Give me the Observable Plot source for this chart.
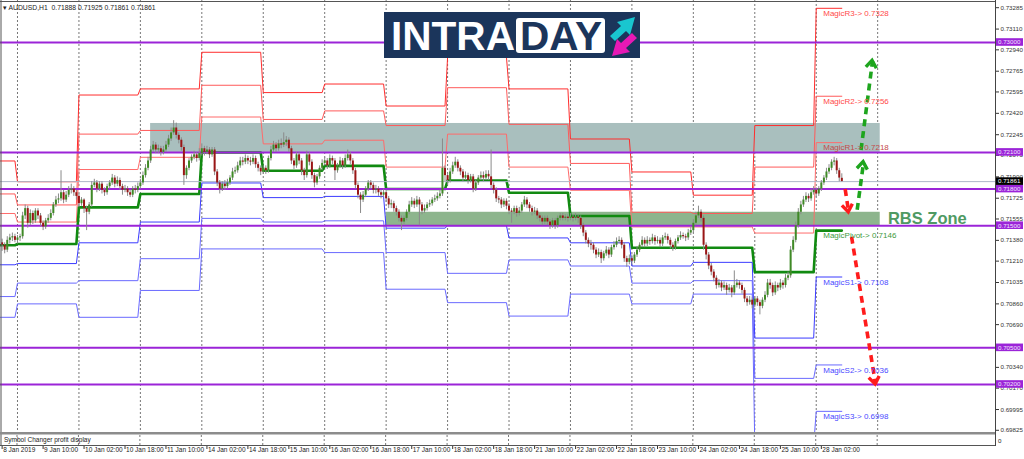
<!DOCTYPE html>
<html><head><meta charset="utf-8">
<script src="https://cdn.jsdelivr.net/npm/d3@7"></script>
<script src="https://cdn.jsdelivr.net/npm/@observablehq/plot@0.6"></script>
<style>
html,body{margin:0;padding:0;background:#fff;}
#chart{width:1024px;height:459px;overflow:hidden;}
</style></head><body><div id="chart"></div>
<script>
// ---------- DATA ----------
const symbolHeader = "AUDUSD,H1  0.71888 0.71925 0.71861 0.71861";
const firstBar = -6; // bar index of first candle (0 = 9 Jan 00:00)
const firstOpen = 0.7136;
const closes = [
 0.7134,0.7130,0.7138,0.7140,0.7141,0.7138,
 0.7140,0.7141,0.7158,0.7164,0.7152,0.7160,0.7154,0.7162,0.7158,0.7152,0.7149,0.7154,0.7156,0.7160,0.7167,0.7171,0.7172,0.7177,0.7171,0.7175,0.7179,0.7180,0.7177,0.7174,
 0.7168,0.7171,0.7164,0.7161,0.7167,0.7183,0.7185,0.7180,0.7184,0.7179,0.7177,0.7182,0.7185,0.7189,0.7184,0.7187,0.7182,0.7179,0.7180,0.7177,0.7175,0.7180,0.7179,0.7182,
 0.7185,0.7191,0.7197,0.7203,0.7212,0.7216,0.7212,0.7213,0.7210,0.7212,0.7216,0.7221,0.7226,0.7230,0.7224,0.7220,0.7214,0.7191,0.7197,0.7203,0.7206,0.7208,0.7205,0.7209,
 0.7213,0.7210,0.7212,0.7208,0.7212,0.7194,0.7185,0.7180,0.7184,0.7182,0.7185,0.7189,0.7194,0.7195,0.7199,0.7203,0.7202,0.7205,0.7203,0.7202,0.7205,0.7200,0.7197,0.7194,
 0.7197,0.7195,0.7205,0.7212,0.7216,0.7213,0.7217,0.7216,0.7218,0.7220,0.7213,0.7203,0.7199,0.7208,0.7203,0.7195,0.7191,0.7208,0.7202,0.7191,0.7185,0.7190,0.7197,0.7201,
 0.7203,0.7199,0.7205,0.7203,0.7195,0.7199,0.7203,0.7199,0.7205,0.7208,0.7203,0.7195,0.7183,0.7175,0.7171,0.7175,0.7180,0.7185,0.7183,0.7179,0.7180,0.7177,0.7175,0.7177,
 0.7172,0.7167,0.7168,0.7164,0.7161,0.7156,0.7153,0.7156,0.7161,0.7167,0.7170,0.7167,0.7171,0.7167,0.7162,0.7164,0.7167,0.7168,0.7171,0.7172,0.7174,0.7176,0.7197,0.7191,
 0.7187,0.7194,0.7199,0.7202,0.7197,0.7194,0.7189,0.7191,0.7187,0.7190,0.7180,0.7185,0.7189,0.7191,0.7189,0.7192,0.7190,0.7183,0.7179,0.7172,0.7171,0.7167,0.7170,0.7166,
 0.7162,0.7161,0.7164,0.7160,0.7162,0.7167,0.7171,0.7167,0.7164,0.7161,0.7162,0.7158,0.7156,0.7153,0.7156,0.7153,0.7150,0.7154,0.7150,0.7156,0.7158,0.7156,0.7157,0.7156,
 0.7157,0.7156,0.7157,0.7156,0.7150,0.7144,0.7138,0.7135,0.7134,0.7130,0.7126,0.7128,0.7123,0.7127,0.7130,0.7126,0.7132,0.7134,0.7137,0.7138,0.7134,0.7123,0.7120,0.7123,
 0.7121,0.7126,0.7130,0.7134,0.7138,0.7135,0.7138,0.7137,0.7140,0.7137,0.7138,0.7135,0.7140,0.7141,0.7138,0.7134,0.7132,0.7137,0.7140,0.7142,0.7141,0.7140,0.7144,0.7146,
 0.7152,0.7158,0.7161,0.7156,0.7134,0.7126,0.7117,0.7112,0.7107,0.7101,0.7103,0.7099,0.7101,0.7097,0.7099,0.7095,0.7101,0.7103,0.7101,0.7097,0.7090,0.7087,0.7089,0.7085,
 0.7090,0.7087,0.7084,0.7089,0.7093,0.7103,0.7101,0.7095,0.7101,0.7099,0.7103,0.7101,0.7107,0.7109,0.7130,0.7138,0.7150,0.7161,0.7167,0.7171,0.7174,0.7172,0.7177,0.7179,
 0.7176,0.7180,0.7185,0.7189,0.7194,0.7197,0.7202,0.7203,0.7195,0.7189,0.71861
];
const highs = [
 0.7139,0.7136,0.7141,0.7143,0.7144,0.7143,
 0.7142,0.7143,0.7161,0.7167,0.7166,0.7163,0.7162,0.7164,0.7164,0.7160,0.7154,0.7156,0.7159,0.7163,0.7169,0.7174,0.7176,0.7195,0.7179,0.7178,0.7182,0.7184,0.7182,0.7179,
 0.7176,0.7173,0.7172,0.7166,0.7169,0.7186,0.7188,0.7187,0.7186,0.7186,0.7181,0.7184,0.7187,0.7192,0.7191,0.7190,0.7189,0.7184,0.7183,0.7182,0.7179,0.7182,0.7183,0.7185,
 0.7188,0.7194,0.7200,0.7206,0.7215,0.7219,0.7218,0.7216,0.7215,0.7215,0.7219,0.7224,0.7230,0.7236,0.7234,0.7226,0.7222,0.7216,0.7199,0.7205,0.7208,0.7211,0.7210,0.7213,
 0.7217,0.7215,0.7215,0.7214,0.7214,0.7214,0.7196,0.7187,0.7186,0.7187,0.7188,0.7191,0.7197,0.7198,0.7202,0.7206,0.7206,0.7208,0.7207,0.7206,0.7208,0.7207,0.7202,0.7199,
 0.7199,0.7199,0.7207,0.7215,0.7219,0.7218,0.7220,0.7221,0.7226,0.7223,0.7222,0.7215,0.7205,0.7210,0.7210,0.7205,0.7197,0.7211,0.7210,0.7204,0.7193,0.7192,0.7199,0.7204,
 0.7206,0.7205,0.7208,0.7207,0.7205,0.7201,0.7206,0.7205,0.7208,0.7212,0.7210,0.7205,0.7197,0.7185,0.7177,0.7178,0.7182,0.7187,0.7187,0.7185,0.7183,0.7182,0.7179,0.7180,
 0.7179,0.7174,0.7171,0.7170,0.7166,0.7163,0.7158,0.7158,0.7163,0.7170,0.7173,0.7172,0.7174,0.7173,0.7169,0.7167,0.7169,0.7171,0.7173,0.7175,0.7177,0.7179,0.7221,0.7199,
 0.7193,0.7197,0.7202,0.7206,0.7204,0.7199,0.7196,0.7194,0.7193,0.7192,0.7192,0.7187,0.7191,0.7194,0.7194,0.7195,0.7195,0.7212,0.7185,0.7181,0.7174,0.7173,0.7172,0.7172,
 0.7168,0.7164,0.7166,0.7166,0.7165,0.7169,0.7174,0.7173,0.7169,0.7166,0.7165,0.7164,0.7160,0.7158,0.7158,0.7158,0.7155,0.7156,0.7156,0.7158,0.7160,0.7160,0.7159,0.7159,
 0.7160,0.7159,0.7160,0.7159,0.7158,0.7152,0.7146,0.7140,0.7138,0.7136,0.7132,0.7131,0.7130,0.7129,0.7133,0.7132,0.7134,0.7137,0.7140,0.7141,0.7140,0.7136,0.7125,0.7126,
 0.7126,0.7128,0.7133,0.7136,0.7141,0.7140,0.7141,0.7140,0.7143,0.7142,0.7141,0.7140,0.7142,0.7144,0.7143,0.7140,0.7136,0.7139,0.7142,0.7145,0.7144,0.7143,0.7147,0.7149,
 0.7155,0.7161,0.7166,0.7163,0.7158,0.7136,0.7128,0.7119,0.7114,0.7109,0.7106,0.7105,0.7104,0.7103,0.7102,0.7101,0.7113,0.7106,0.7105,0.7103,0.7099,0.7092,0.7092,0.7091,
 0.7092,0.7092,0.7089,0.7091,0.7096,0.7106,0.7106,0.7103,0.7104,0.7103,0.7106,0.7105,0.7110,0.7112,0.7133,0.7141,0.7153,0.7164,0.7170,0.7174,0.7177,0.7176,0.7180,0.7182,
 0.7181,0.7182,0.7187,0.7191,0.7197,0.7200,0.7204,0.7206,0.7205,0.7197,0.71925
];
const lows = [
 0.7129,0.7127,0.7128,0.7135,0.7137,0.7136,
 0.7135,0.7137,0.7139,0.7155,0.7148,0.7150,0.7151,0.7152,0.7155,0.7149,0.7146,0.7147,0.7152,0.7154,0.7158,0.7165,0.7168,0.7170,0.7168,0.7169,0.7173,0.7176,0.7174,0.7171,
 0.7165,0.7166,0.7160,0.7146,0.7159,0.7165,0.7181,0.7177,0.7178,0.7176,0.7174,0.7175,0.7180,0.7183,0.7181,0.7182,0.7179,0.7175,0.7177,0.7174,0.7173,0.7173,0.7176,0.7177,
 0.7180,0.7183,0.7189,0.7195,0.7201,0.7210,0.7209,0.7209,0.7207,0.7208,0.7210,0.7214,0.7219,0.7224,0.7221,0.7217,0.7211,0.7183,0.7188,0.7195,0.7201,0.7204,0.7202,0.7203,
 0.7207,0.7207,0.7208,0.7205,0.7206,0.7191,0.7182,0.7176,0.7178,0.7179,0.7180,0.7183,0.7187,0.7192,0.7193,0.7197,0.7199,0.7200,0.7200,0.7199,0.7200,0.7197,0.7194,0.7191,
 0.7192,0.7192,0.7193,0.7203,0.7210,0.7210,0.7211,0.7213,0.7214,0.7215,0.7210,0.7200,0.7196,0.7197,0.7200,0.7191,0.7187,0.7189,0.7199,0.7188,0.7181,0.7183,0.7188,0.7195,
 0.7199,0.7196,0.7197,0.7200,0.7187,0.7193,0.7197,0.7196,0.7197,0.7203,0.7200,0.7192,0.7180,0.7172,0.7160,0.7169,0.7173,0.7178,0.7180,0.7176,0.7176,0.7174,0.7172,0.7173,
 0.7169,0.7164,0.7164,0.7161,0.7158,0.7153,0.7146,0.7151,0.7154,0.7159,0.7165,0.7164,0.7165,0.7150,0.7159,0.7160,0.7162,0.7165,0.7166,0.7169,0.7170,0.7172,0.7174,0.7186,
 0.7183,0.7185,0.7192,0.7197,0.7194,0.7191,0.7186,0.7187,0.7184,0.7185,0.7177,0.7178,0.7183,0.7187,0.7186,0.7187,0.7187,0.7180,0.7176,0.7169,0.7168,0.7164,0.7165,0.7163,
 0.7159,0.7152,0.7159,0.7157,0.7158,0.7160,0.7165,0.7164,0.7161,0.7158,0.7159,0.7155,0.7153,0.7150,0.7151,0.7150,0.7147,0.7148,0.7147,0.7148,0.7154,0.7154,0.7154,0.7153,
 0.7154,0.7153,0.7154,0.7152,0.7147,0.7141,0.7135,0.7132,0.7130,0.7127,0.7123,0.7124,0.7119,0.7121,0.7125,0.7123,0.7124,0.7130,0.7132,0.7135,0.7131,0.7120,0.7116,0.7118,
 0.7118,0.7119,0.7124,0.7128,0.7132,0.7132,0.7133,0.7134,0.7135,0.7134,0.7135,0.7132,0.7133,0.7138,0.7135,0.7131,0.7129,0.7130,0.7135,0.7138,0.7139,0.7137,0.7138,0.7142,
 0.7144,0.7150,0.7156,0.7153,0.7130,0.7122,0.7114,0.7109,0.7104,0.7098,0.7099,0.7096,0.7097,0.7093,0.7095,0.7091,0.7093,0.7099,0.7098,0.7094,0.7087,0.7084,0.7085,0.7082,
 0.7083,0.7084,0.7077,0.7082,0.7087,0.7091,0.7098,0.7092,0.7093,0.7096,0.7097,0.7098,0.7099,0.7105,0.7107,0.7128,0.7136,0.7148,0.7159,0.7165,0.7169,0.7169,0.7170,0.7175,
 0.7173,0.7174,0.7178,0.7183,0.7187,0.7192,0.7195,0.7199,0.7192,0.7186,0.71861
];
// daily "Magic" levels (8 Jan ... 28 Jan)
const dayStart = [-7,0,24,48,72,96,120,144,168,192,216,240,264,288,312];
const dayEnd   = [-1,23,47,71,95,119,143,167,191,215,239,263,287,311,322];
const magicR3 = [0.7203,0.7186,0.7257,0.7262,0.7292,0.7259,0.7266,0.7248,0.7288,0.7262,0.7221,0.7194,0.7175,0.7232,0.7328];
const magicR2 = [0.7176,0.7167,0.7225,0.7228,0.7265,0.7237,0.7244,0.7232,0.7263,0.7233,0.7201,0.7161,0.7160,0.7198,0.7256];
const magicR1 = [0.7160,0.7153,0.7196,0.7206,0.7239,0.7217,0.7220,0.7198,0.7225,0.7198,0.7179,0.7149,0.7149,0.7144,0.7218];
const magicP  = [0.7134,0.7135,0.7165,0.7176,0.7210,0.7195,0.7199,0.7180,0.7187,0.7177,0.7158,0.7132,0.7132,0.7112,0.7146];
const magicS1 = [0.7118,0.7119,0.7136,0.7153,0.7185,0.7173,0.7174,0.7148,0.7150,0.7140,0.7136,0.7117,0.7120,0.7058,0.7108];
const magicS2 = [0.7092,0.7103,0.7105,0.7123,0.7156,0.7153,0.7154,0.7128,0.7111,0.7122,0.7117,0.7103,0.7105,0.7025,0.7036];
const magicS3 = [0.7075,0.7086,0.7075,0.7097,0.7131,0.7131,0.7128,0.7098,0.7087,0.7076,0.7094,0.7086,0.7094,0.6970,0.6998];
const magicNames = ["MagicR3","MagicR2","MagicR1","MagicPivot","MagicS1","MagicS2","MagicS3"];
const keyLevels = [0.73000,0.72100,0.71800,0.71500,0.70500,0.70200];
const lastPrice = 0.71861;
const yTicks = [0.73285,0.73110,0.72940,0.72765,0.72595,0.72420,0.72245,0.72075,0.71900,0.71725,0.71555,0.71380,0.71210,0.71035,0.70860,0.70690,0.70340,0.70170,0.69995,0.69825];
const xTickBars = [-6,10,26,42,58,74,90,106,122,138,154,170,186,202,218,234,250,266,282,298,314];
const xTickLabels = ["8 Jan 2019","9 Jan 10:00","10 Jan 02:00","10 Jan 18:00","11 Jan 10:00","14 Jan 02:00","14 Jan 18:00","15 Jan 10:00","16 Jan 02:00","16 Jan 18:00","17 Jan 10:00","18 Jan 02:00","18 Jan 18:00","21 Jan 10:00","22 Jan 02:00","22 Jan 18:00","23 Jan 10:00","24 Jan 02:00","24 Jan 18:00","25 Jan 10:00","28 Jan 02:00"];
const gridBars = [0,24,48,72,96,120,144,168,192,216,240,264,288,312,336];
const resistZoneBars = [52,337], resistZonePrices = [0.72100,0.72337];
const rbsZoneBars = [144,337], rbsZonePrices = [0.71500,0.71610];
const rbsLabel = {bar:340, price:0.7156, text:"RBS Zone"};
const greenArrows = [{b1:328,p1:0.7163,b2:330.5,p2:0.7202},{b1:329.5,p1:0.7212,b2:334,p2:0.7285}];
const redArrows = [{b1:323.3,p1:0.7180,b2:324.7,p2:0.7161},{b1:325.8,p1:0.7141,b2:335.2,p2:0.7020}];

// ---------- BUILD ----------
const candles = closes.map((c,k)=>({i:firstBar+k, o:k?closes[k-1]:firstOpen, c, h:highs[k], l:lows[k]}));
candles[candles.length-1].o = 0.71888;
function levelPts(arr){const p=[];arr.forEach((v,d)=>{p.push({i:dayStart[d],v});p.push({i:dayEnd[d],v});});return p;}
const levelSets = [magicR3,magicR2,magicR1,magicP,magicS1,magicS2,magicS3];
const levelColors = ["#ff2d2d","#ff5a5a","#ff6b6b","#118a11","#3a3aff","#6a6aff","#6a6aff"];
const labelColors = ["#ff4a4a","#ff4a4a","#c44a4a","#3d9a3d","#4a4aff","#4a4aff","#4a4aff"];
const last = dayStart.length-1;
const magicLabels = levelSets.map((a,k)=>({i:dayStart[last], v:a[last], text:`${magicNames[k]}-> ${a[last].toFixed(4)}`, color:labelColors[k]}));
const FONT = "Liberation Sans, Arial, sans-serif";

const marks = [
  Plot.ruleX(gridBars,{x:d=>d,stroke:"#777",strokeDasharray:"2,2",strokeWidth:1}),
  Plot.rect([0],{x1:resistZoneBars[0],x2:resistZoneBars[1],y1:resistZonePrices[0],y2:resistZonePrices[1],fill:"#a9bfbe"}),
  Plot.rect([0],{x1:rbsZoneBars[0],x2:rbsZoneBars[1],y1:rbsZonePrices[0],y2:rbsZonePrices[1],fill:"#8db58d"}),
];
levelSets.forEach((arr,k)=>{
  marks.push(Plot.line(levelPts(arr),{x:"i",y:"v",stroke:levelColors[k],strokeWidth:k===3?2.6:1,clip:true}));
});
marks.push(
  Plot.ruleY(keyLevels,{y:d=>d,stroke:"#9b24d8",strokeWidth:2}),
  Plot.ruleY([lastPrice],{y:d=>d,stroke:"#aeb6c8",strokeWidth:1}),
  Plot.ruleX(candles,{x:"i",y1:"l",y2:"h",stroke:"#8a8a8a",strokeWidth:1}),
  Plot.ruleX(candles,{x:"i",y1:"o",y2:"c",stroke:d=>d.c>=d.o?"#3f8a26":"#9a1616",strokeWidth:2}),
  Plot.link(greenArrows,{x1:"b1",y1:"p1",x2:"b2",y2:"p2",stroke:"#1ea51e",strokeWidth:3.6,strokeDasharray:"7,5"}),
  Plot.link(redArrows,{x1:"b1",y1:"p1",x2:"b2",y2:"p2",stroke:"#ff1c1c",strokeWidth:3.6,strokeDasharray:"7,5"}),
  Plot.text(magicLabels,{x:"i",y:"v",text:"text",fill:"color",textAnchor:"start",dx:7,dy:5,fontSize:8,fontFamily:FONT}),
  Plot.text([rbsLabel],{x:"bar",y:"price",text:"text",fill:"#4f9a63",fontWeight:"bold",fontSize:16.5,textAnchor:"start",fontFamily:FONT}),
  Plot.text(xTickBars,{x:d=>d,text:(d,k)=>xTickLabels[k],frameAnchor:"bottom",dy:19,dx:1,textAnchor:"start",fontSize:6.5,fill:"#222",fontFamily:FONT}),
  Plot.axisY(yTicks,{anchor:"right",tickSize:3,tickPadding:2,tickFormat:d=>d.toFixed(5),fontSize:6.2,fontFamily:FONT,color:"#333"})
);

const chart = Plot.plot({
  width:1024, height:459,
  marginTop:0, marginBottom:27, marginLeft:0, marginRight:29,
  x:{domain:[-6.64,382.03],axis:null},
  y:{domain:[0.698069,0.733439],axis:null},
  style:{fontFamily:FONT,background:"#fff",overflow:"visible"},
  marks
});
document.getElementById("chart").appendChild(chart);

// ---------- DECORATIONS (positions from scales) ----------
const svg = d3.select(chart);
const sx = v=>chart.scale("x").apply(v), sy = v=>chart.scale("y").apply(v);
const g = svg.append("g").attr("text-anchor","start").attr("font-family",FONT);
// arrowheads
[[greenArrows,"#1ea51e"],[redArrows,"#ff1c1c"]].forEach(([arr,col])=>{
  arr.forEach(a=>{
    const x1=sx(a.b1),y1=sy(a.p1),x2=sx(a.b2),y2=sy(a.p2);
    const ang=Math.atan2(y2-y1,x2-x1), L=9, w=Math.PI/5;
    const p=`M${x2-L*Math.cos(ang-w)},${y2-L*Math.sin(ang-w)}L${x2},${y2}L${x2-L*Math.cos(ang+w)},${y2-L*Math.sin(ang+w)}`;
    g.append("path").attr("d",p).attr("fill","none").attr("stroke",col).attr("stroke-width",3.4);
  });
});
// frame & sub panel
const R = sx(382.03);
g.append("line").attr("x1",1).attr("x2",1).attr("y1",0).attr("y2",446).attr("stroke","#555");
g.append("line").attr("x1",0).attr("x2",R).attr("y1",1.5).attr("y2",1.5).attr("stroke","#555");
g.append("line").attr("x1",R+0.5).attr("x2",R+0.5).attr("y1",0).attr("y2",446).attr("stroke","#444");
g.append("rect").attr("x",0).attr("y",432).attr("width",R).attr("height",2.5).attr("fill","#8c8c8c");
g.append("line").attr("x1",0).attr("x2",R).attr("y1",445.5).attr("y2",445.5).attr("stroke","#555");
gridBars.forEach(b=>g.append("line").attr("x1",sx(b)).attr("x2",sx(b)).attr("y1",435).attr("y2",445).attr("stroke","#777").attr("stroke-dasharray","2,2"));
xTickBars.forEach(b=>g.append("line").attr("x1",sx(b)+0.5).attr("x2",sx(b)+0.5).attr("y1",446).attr("y2",449).attr("stroke","#333"));
g.append("text").attr("x",4).attr("y",442).attr("font-size",6.5).attr("fill","#222").text("Symbol Changer profit display");
g.append("text").attr("x",R+3).attr("y",443).attr("font-size",6.2).attr("fill","#222").text("0");
// header
g.append("text").attr("x",3).attr("y",9.5).attr("font-size",6.8).attr("fill","#222").text("\u25BE "+symbolHeader);
// price boxes
keyLevels.forEach(v=>{
  g.append("rect").attr("x",R+1).attr("y",sy(v)-3.8).attr("width",27).attr("height",7.6).attr("fill","#9b24d8");
  g.append("text").attr("x",R+3).attr("y",sy(v)+2.3).attr("font-size",6.2).attr("fill","#f3e6ff").text(v.toFixed(5));
});
g.append("rect").attr("x",R+1).attr("y",sy(lastPrice)-3.8).attr("width",27).attr("height",7.6).attr("fill","#000");
g.append("text").attr("x",R+3).attr("y",sy(lastPrice)+2.3).attr("font-size",6.2).attr("fill","#fff").text(lastPrice.toFixed(5));
// logo
const lg = g.append("g");
lg.append("rect").attr("x",384).attr("y",12).attr("width",256).attr("height",46).attr("fill","#1b355b");
lg.append("text").attr("x",391).attr("y",50).attr("font-size",40).attr("font-weight","bold").attr("fill","#fff").attr("textLength",124).attr("lengthAdjust","spacingAndGlyphs").text("INTRA");
lg.append("rect").attr("x",516).attr("y",18).attr("width",89).attr("height",35).attr("rx",3).attr("fill","#fff");
lg.append("text").attr("x",520).attr("y",50).attr("font-size",40).attr("font-weight","bold").attr("fill","#1b355b").attr("textLength",82).attr("lengthAdjust","spacingAndGlyphs").text("DAY");
lg.append("path").attr("d","M610,36 L621,26 L617,22 L635,17 L630,35 L626,31 L615,41 Z").attr("fill","#19c6cf");
lg.append("path").attr("d","M637,38 L626,48 L630,52 L612,56 L617,39 L621,43 L632,33 Z").attr("fill","#e619b5");
</script></body></html>
